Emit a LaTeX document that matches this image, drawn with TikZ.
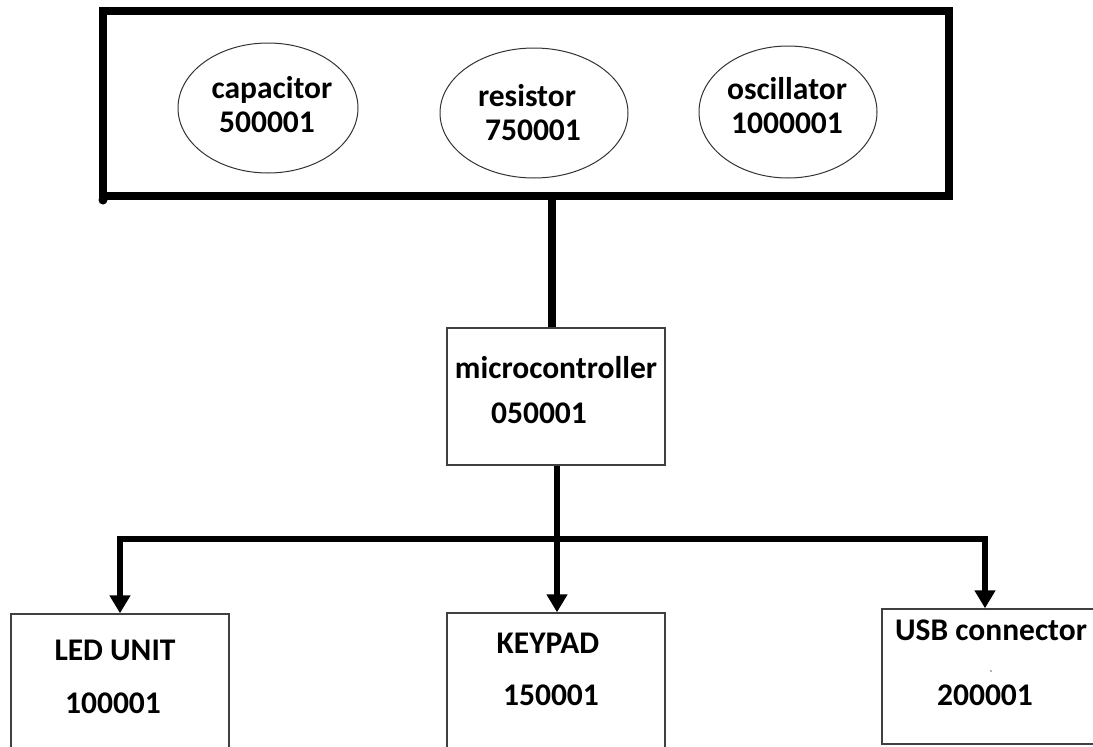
\documentclass[tikz,border=0pt]{standalone}
\usepackage{fontspec}
\setmainfont{Carlito}
\usetikzlibrary{arrows.meta,shapes.geometric}
\begin{document}
\begin{tikzpicture}[x=1pt,y=-1pt,
  lbl/.style={inner sep=0pt,font=\fontsize{31.5}{37}\selectfont\bfseries},
  oval/.style={ellipse,draw=black!80,line width=1pt,inner sep=0pt},
  blk/.style={rectangle,draw=black!75,line width=1.4pt,inner sep=0pt},
  thick line/.style={line width=6pt},
  arr/.style={line width=6pt,-{Triangle[width=20pt,length=18pt]}}]
\clip (0,0) rectangle (1093,747);
\fill[white] (0,0) rectangle (1093,747);
% top box
\node[rectangle,draw,line width=8pt,minimum width=846pt,minimum height=185pt,inner sep=0pt] (top) at (526,103.5) {};
\fill (103,200) circle (4.5pt);
% ellipses
\node[oval,minimum width=180pt,minimum height=130pt] (cap) at (268,108) {};
\node[oval,minimum width=188pt,minimum height=130pt] (res) at (534,113) {};
\node[oval,minimum width=178pt,minimum height=132pt] (osc) at (788,112) {};
\node[lbl] (capt) at (272,90) {capacitor};
\node[lbl] (capn) at (267,122) {500001};
\node[lbl] (rest) at (527,96) {resistor};
\node[lbl] (resn) at (533,130) {750001};
\node[lbl] (osct) at (787,89) {oscillator};
\node[lbl] (oscn) at (787,123) {1000001};
% microcontroller
\node[blk,minimum width=218pt,minimum height=137pt] (mc) at (556,396.5) {};
\node[lbl] (mct) at (556,368) {microcontroller};
\node[lbl] (mcn) at (539,413) {050001};
% bottom boxes
\node[blk,minimum width=218pt,minimum height=160pt] (led) at (120,694) {};
\node[lbl] (ledt) at (115,650) {LED UNIT};
\node[lbl] (ledn) at (113,703) {100001};
\node[blk,minimum width=218pt,minimum height=160pt] (key) at (556,693) {};
\node[lbl] (keyt) at (548,643) {KEYPAD};
\node[lbl] (keyn) at (551,695) {150001};
\node[blk,minimum width=218pt,minimum height=135pt] (usb) at (991,676.5) {};
\node[lbl] (usbt) at (991,630) {USB connector};
\node[lbl] (usbn) at (985,695) {200001};
\fill[black!60] (991,671) circle (0.9pt);
% connectors
\draw[line width=8pt] ([xshift=-4pt]mc.north) -- ([xshift=-4pt]mc.north |- top.south);
\coordinate (bm) at (557,539);
\coordinate (bl) at (120,539);
\coordinate (br) at (985,539);
\draw[thick line] (mc.south -| bm) -- (bm);
\draw[thick line] ([xshift=-3pt]bl) -- ([xshift=3pt]br);
\draw[arr] (bl) -- (led.north);
\draw[arr] (bm) -- ([xshift=1pt]key.north);
\draw[arr] (br) -- ([xshift=-6pt]usb.north);
\end{tikzpicture}
\end{document}
